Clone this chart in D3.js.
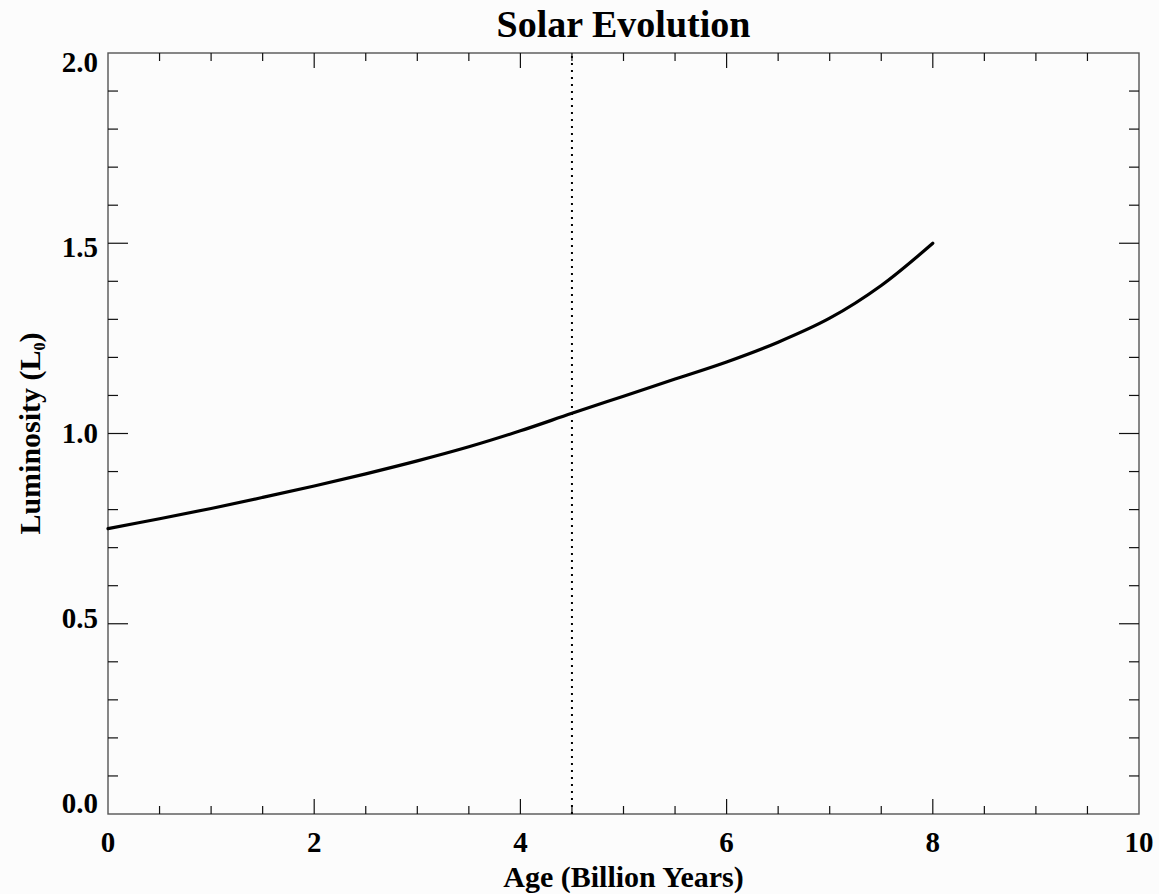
<!DOCTYPE html>
<html>
<head>
<meta charset="utf-8">
<script src="https://cdn.jsdelivr.net/npm/d3@7"></script>
<style>
  html, body { margin: 0; padding: 0; background: #fcfcfc; }
  svg { display: block; }
  text { font-family: "Liberation Serif", "Times New Roman", serif; font-weight: bold; fill: #000; }
</style>
</head>
<body>
<svg id="chart" width="1159" height="894"></svg>
<script>
// Solar luminosity track (in units of present-day luminosity) against age
const ages = [0, 0.5, 1, 1.5, 2, 2.5, 3, 3.5, 4, 4.5, 5, 5.5, 6, 6.5, 7, 7.5, 8];
const luminosity = [0.750, 0.776, 0.803, 0.832, 0.862, 0.894, 0.928, 0.965, 1.007, 1.053, 1.098, 1.143, 1.188, 1.240, 1.303, 1.389, 1.500];
const presentAge = 4.5;

const xMajorTicks = [0, 2, 4, 6, 8, 10];
const xMinorTicks = d3.range(0, 10.001, 0.5);
const yMajorTicks = [0, 0.5, 1.0, 1.5, 2.0];
const yMinorTicks = d3.range(0, 2.0001, 0.1);

const titleText = "Solar Evolution";
const xTitle = "Age (Billion Years)";

const svg = d3.select("#chart");
const W = 1159, H = 894;
const margin = { left: 108, right: 20, top: 53, bottom: 80 };
const x0 = margin.left, x1 = W - margin.right;
const y0 = H - margin.bottom, y1 = margin.top;

const x = d3.scaleLinear().domain([0, 10]).range([x0, x1]);
const y = d3.scaleLinear().domain([0, 2]).range([y0, y1]);
// tick labels drift slightly from their ticks along the y axis
const yLabel = d3.scaleLinear().domain([0, 2]).range([y0 - 1, y1 + 19]);

svg.append("rect").attr("width", W).attr("height", H).attr("fill", "#fcfcfc");

// frame
svg.append("rect")
  .attr("x", x0).attr("y", y1)
  .attr("width", x1 - x0).attr("height", y0 - y1)
  .attr("fill", "none").attr("stroke", "#555").attr("stroke-width", 1.4);

const tickG = svg.append("g").attr("stroke", "#111").attr("stroke-width", 1.2);
const isMajor = (v, list) => list.some(m => Math.abs(m - v) < 1e-6);

// x ticks on bottom and top
xMinorTicks.forEach(v => {
  const len = isMajor(v, xMajorTicks) ? 15 : 8;
  if (v === 0 || v === 10) return;
  tickG.append("line").attr("x1", x(v)).attr("x2", x(v)).attr("y1", y0).attr("y2", y0 - len);
  tickG.append("line").attr("x1", x(v)).attr("x2", x(v)).attr("y1", y1).attr("y2", y1 + len);
});
// y ticks on left and right
yMinorTicks.forEach(v => {
  const len = isMajor(v, yMajorTicks) ? 20 : 10;
  if (v < 1e-6 || v > 1.9999) return;
  tickG.append("line").attr("x1", x0).attr("x2", x0 + len).attr("y1", y(v)).attr("y2", y(v));
  tickG.append("line").attr("x1", x1).attr("x2", x1 - len).attr("y1", y(v)).attr("y2", y(v));
});

// tick labels
svg.append("g").selectAll("text").data(xMajorTicks).join("text")
  .attr("x", d => x(d)).attr("y", y0 + 38)
  .attr("text-anchor", "middle").attr("font-size", 29)
  .text(d => d3.format("d")(d));

svg.append("g").selectAll("text").data(yMajorTicks).join("text")
  .attr("x", x0 - 10).attr("y", d => yLabel(d))
  .attr("text-anchor", "end").attr("font-size", 29)
  .text(d => d3.format(".1f")(d));

// present-day marker
svg.append("line")
  .attr("x1", x(presentAge)).attr("x2", x(presentAge))
  .attr("y1", y(0)).attr("y2", y(2))
  .attr("stroke", "#000").attr("stroke-width", 2)
  .attr("stroke-dasharray", "2,5");

// luminosity curve
const line = d3.line()
  .x((d, i) => x(ages[i]))
  .y(d => y(d))
  .curve(d3.curveCatmullRom.alpha(0.5));
svg.append("path")
  .datum(luminosity)
  .attr("d", line)
  .attr("fill", "none").attr("stroke", "#000").attr("stroke-width", 3.2)
  .attr("stroke-linejoin", "round").attr("stroke-linecap", "round");

// titles
svg.append("text")
  .attr("x", (x0 + x1) / 2).attr("y", 37)
  .attr("text-anchor", "middle").attr("font-size", 38)
  .text(titleText);

svg.append("text")
  .attr("x", (x0 + x1) / 2).attr("y", 887)
  .attr("text-anchor", "middle").attr("font-size", 30)
  .text(xTitle);

const yT = svg.append("text")
  .attr("transform", `translate(40,${(y0 + y1) / 2}) rotate(-90)`)
  .attr("text-anchor", "middle").attr("font-size", 30);
yT.append("tspan").text("Luminosity (L");
yT.append("tspan").attr("font-size", 16).attr("dy", 5).text("0");
yT.append("tspan").attr("dy", -5).text(")");
</script>
</body>
</html>
